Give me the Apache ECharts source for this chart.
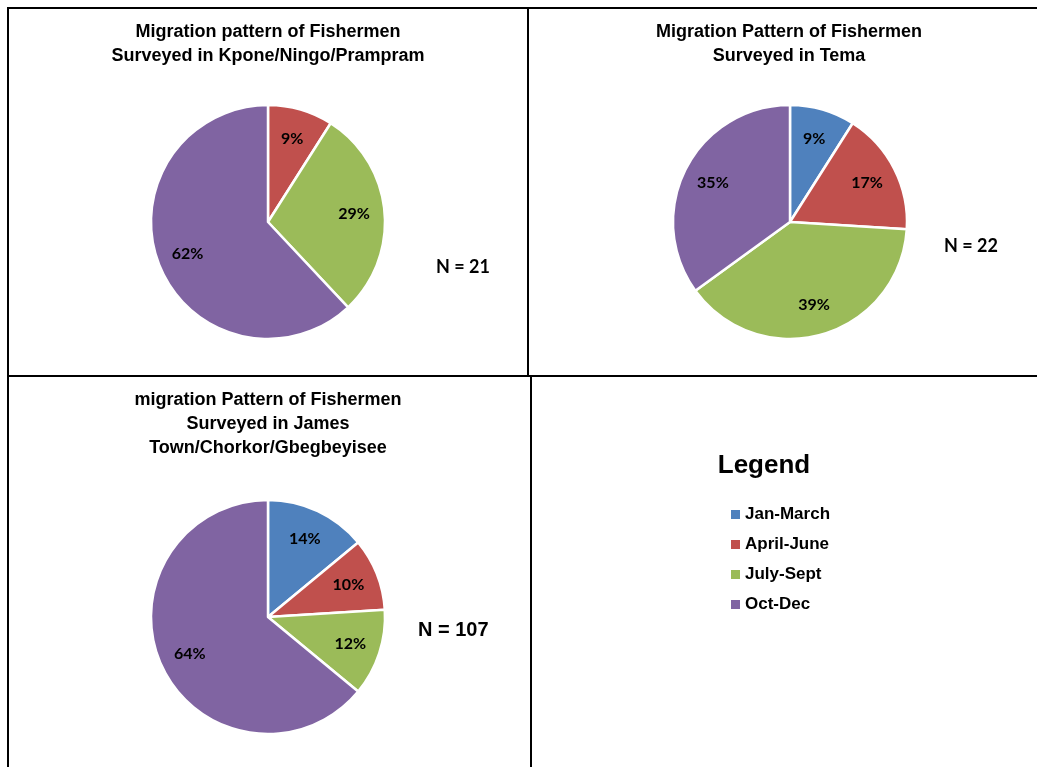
<!DOCTYPE html>
<html>
<head>
<meta charset="utf-8">
<script src="https://cdn.jsdelivr.net/npm/echarts@6/dist/echarts.min.js"></script>
<style>
  body { margin: 0; background: #fff; }
  #chart { width: 1037px; height: 767px; }
</style>
</head>
<body>
<div id="chart"></div>
<script>
// seasons (legend)
var seasons = ['Jan-March', 'April-June', 'July-Sept', 'Oct-Dec'];
var colors = ['#4F81BD', '#C0504D', '#9BBB59', '#8064A2'];

// percent of fishermen per season
var kponeValues = [0, 9, 29, 62];
var temaValues = [9, 17, 39, 35];
var jamesValues = [14, 10, 12, 64];

var titles = [
  'Migration pattern of Fishermen\nSurveyed in Kpone/Ningo/Prampram',
  'Migration Pattern of Fishermen\nSurveyed in Tema',
  'migration Pattern of Fishermen\nSurveyed in James\nTown/Chorkor/Gbegbeyisee'
];
var sampleSizes = ['N = 21', 'N = 22', 'N = 107'];

var myChart = echarts.init(document.getElementById('chart'));

function toData(values) {
  return values.map(function (v, i) {
    return { name: seasons[i], value: v, itemStyle: { color: colors[i] } };
  });
}

// main pie + transparent ring on top that only carries the labels
function pieSeries(values, center) {
  return [{
    type: 'pie',
    center: center,
    radius: 117,
    startAngle: 90,
    clockwise: true,
    avoidLabelOverlap: false,
    silent: true,
    itemStyle: { borderColor: '#fff', borderWidth: 2.5 },
    label: { show: false },
    labelLine: { show: false },
    data: toData(values)
  }, {
    type: 'pie',
    center: center,
    radius: [50, 117],
    startAngle: 90,
    clockwise: true,
    avoidLabelOverlap: false,
    silent: true,
    itemStyle: { color: 'rgba(0,0,0,0)', borderWidth: 0 },
    label: {
      show: true,
      position: 'inside',
      color: '#000',
      fontFamily: 'Lato',
      fontWeight: 'bold',
      fontSize: 16,
      formatter: function (p) { return p.value ? p.value + '%' : ''; }
    },
    labelLine: { show: false },
    data: values.map(function (v, i) { return { name: seasons[i], value: v }; })
  }];
}

var titleStyle = { color: '#000', fontFamily: 'Liberation Sans', fontWeight: 'bold', fontSize: 18, lineHeight: 24 };
var nStyle = { color: '#000', fontFamily: 'Lato', fontWeight: 'bold', fontSize: 18, lineHeight: 20 };

var lineStyle = { stroke: '#000', lineWidth: 2 };

var option = {
  animation: false,
  backgroundColor: '#fff',
  title: [
    { text: titles[0], left: 268, top: 20, textAlign: 'center', padding: 0, textStyle: titleStyle },
    { text: titles[1], left: 789, top: 20, textAlign: 'center', padding: 0, textStyle: titleStyle },
    { text: titles[2], left: 268, top: 388, textAlign: 'center', padding: 0, textStyle: titleStyle },
    { text: sampleSizes[0], left: 436, top: 257, padding: 0, textStyle: nStyle },
    { text: sampleSizes[1], left: 944, top: 236, padding: 0, textStyle: nStyle },
    {
      text: sampleSizes[2], left: 418, top: 620, padding: 0,
      textStyle: { color: '#000', fontFamily: 'Liberation Sans', fontWeight: 'bold', fontSize: 20, lineHeight: 20 }
    },
    {
      text: 'Legend', left: 764, top: 451, textAlign: 'center', padding: 0,
      textStyle: { color: '#000', fontFamily: 'Liberation Sans', fontWeight: 'bold', fontSize: 26, lineHeight: 30 }
    }
  ],
  legend: {
    orient: 'vertical',
    left: 731,
    top: 506,
    padding: 0,
    itemWidth: 9,
    itemHeight: 9,
    itemGap: 13,
    icon: 'rect',
    selectedMode: false,
    itemStyle: { borderWidth: 0 },
    textStyle: { color: '#000', fontFamily: 'Liberation Sans', fontWeight: 'bold', fontSize: 17, lineHeight: 17 },
    data: seasons.map(function (s, i) { return { name: s, itemStyle: { color: colors[i] } }; })
  },
  graphic: [
    { type: 'line', shape: { x1: 7, y1: 8, x2: 1037, y2: 8 }, style: lineStyle },
    { type: 'line', shape: { x1: 8, y1: 8, x2: 8, y2: 767 }, style: lineStyle },
    { type: 'line', shape: { x1: 8, y1: 376, x2: 1037, y2: 376 }, style: lineStyle },
    { type: 'line', shape: { x1: 528, y1: 8, x2: 528, y2: 376 }, style: lineStyle },
    { type: 'line', shape: { x1: 531, y1: 376, x2: 531, y2: 767 }, style: lineStyle }
  ],
  series: [].concat(
    pieSeries(kponeValues, [268, 222]),
    pieSeries(temaValues, [790, 222]),
    pieSeries(jamesValues, [268, 617])
  )
};

myChart.setOption(option);
</script>
</body>
</html>
